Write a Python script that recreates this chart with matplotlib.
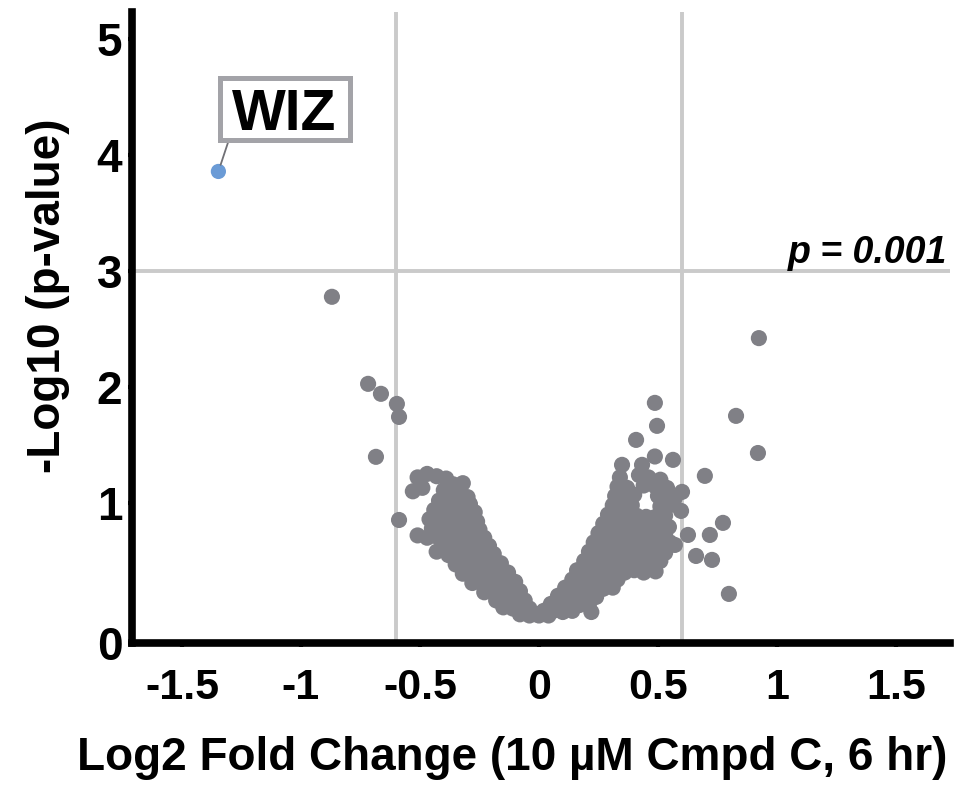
import matplotlib
matplotlib.use("Agg")
import matplotlib.pyplot as plt
from matplotlib.patches import Rectangle

plt.rcParams['font.family'] = ['Liberation Sans', 'DejaVu Sans']
plt.rcParams['font.weight'] = 'bold'
plt.rcParams['axes.unicode_minus'] = False

# ---- data -------------------------------------------------------------
# highlighted hit
hit_name = "WIZ"
hit_fc = -1.347
hit_logp = 3.856

# proteins lying away from the main cloud
outlier_fc = [-0.870, -0.718, -0.664, -0.597, -0.588, -0.685, -0.588,
              0.924, 0.828, 0.920, 0.487, 0.496, 0.408, 0.563, 0.487,
              0.349, 0.433, 0.697, 0.601, 0.597, 0.626, 0.718, 0.773,
              0.660, 0.727, 0.798, 0.546, 0.571, 0.538]
outlier_logp = [2.776, 2.026, 1.940, 1.853, 1.741, 1.397, 0.853,
                2.420, 1.750, 1.430, 1.862, 1.664, 1.543, 1.371, 1.400,
                1.328, 1.328, 1.233, 1.095, 0.931, 0.724, 0.724, 0.828,
                0.543, 0.509, 0.216, 0.793, 0.638, 1.129]

# bulk of quantified proteins, down-regulated side (fold change, -log10 p)
left_arm = [
    (-0.51, 1.22), (-0.47, 1.25), (-0.43, 1.23), (-0.39, 1.21),
    (-0.36, 1.16), (-0.32, 1.17),
    (-0.53, 1.10), (-0.49, 1.13), (-0.40, 1.11), (-0.35, 1.11), (-0.30, 1.05),
    (-0.42, 1.02), (-0.37, 1.03), (-0.33, 1.01), (-0.29, 0.99),
    (-0.44, 0.94), (-0.40, 0.95), (-0.36, 0.94), (-0.31, 0.93), (-0.27, 0.92),
    (-0.46, 0.86), (-0.42, 0.87), (-0.38, 0.86), (-0.34, 0.86), (-0.30, 0.85), (-0.26, 0.84),
    (-0.45, 0.78), (-0.41, 0.79), (-0.37, 0.78), (-0.33, 0.78), (-0.29, 0.77), (-0.25, 0.77),
    (-0.51, 0.72), (-0.47, 0.70), (-0.43, 0.71), (-0.39, 0.71), (-0.35, 0.70),
    (-0.31, 0.70), (-0.27, 0.69), (-0.23, 0.70),
    (-0.43, 0.58), (-0.40, 0.63), (-0.36, 0.63), (-0.32, 0.62), (-0.28, 0.62),
    (-0.24, 0.62), (-0.21, 0.63),
    (-0.38, 0.55), (-0.34, 0.55), (-0.30, 0.55), (-0.26, 0.55), (-0.22, 0.55), (-0.19, 0.56),
    (-0.35, 0.47), (-0.31, 0.47), (-0.27, 0.47), (-0.23, 0.47), (-0.19, 0.47), (-0.16, 0.48),
    (-0.32, 0.39), (-0.28, 0.39), (-0.24, 0.39), (-0.20, 0.39), (-0.16, 0.39), (-0.13, 0.40),
    (-0.28, 0.31), (-0.24, 0.31), (-0.20, 0.31), (-0.16, 0.31), (-0.12, 0.31), (-0.10, 0.32),
    (-0.23, 0.23), (-0.19, 0.23), (-0.15, 0.23), (-0.11, 0.23), (-0.08, 0.24),
    (-0.18, 0.16), (-0.14, 0.15), (-0.10, 0.15), (-0.06, 0.16),
    (-0.15, 0.10), (-0.11, 0.09), (-0.07, 0.08), (-0.04, 0.09),
    (-0.08, 0.04), (-0.04, 0.03), (-0.01, 0.04),
]

# bulk of quantified proteins, up-regulated side (fold change, -log10 p)
right_arm = [
    (0.34, 1.22), (0.42, 1.24), (0.46, 1.22), (0.51, 1.20),
    (0.33, 1.14), (0.37, 1.13), (0.44, 1.15), (0.49, 1.14), (0.53, 1.13),
    (0.32, 1.06), (0.36, 1.05), (0.40, 1.07), (0.50, 1.06), (0.54, 1.05), (0.57, 1.04),
    (0.31, 0.98), (0.35, 0.97), (0.39, 0.98), (0.51, 0.97), (0.55, 0.98),
    (0.29, 0.90), (0.33, 0.89), (0.37, 0.90), (0.41, 0.89), (0.45, 0.88), (0.49, 0.88), (0.53, 0.89),
    (0.27, 0.82), (0.31, 0.81), (0.35, 0.82), (0.39, 0.81), (0.43, 0.81), (0.47, 0.80), (0.51, 0.81),
    (0.25, 0.74), (0.29, 0.73), (0.33, 0.74), (0.37, 0.73), (0.41, 0.73), (0.45, 0.72),
    (0.49, 0.73), (0.53, 0.72),
    (0.23, 0.66), (0.27, 0.65), (0.31, 0.66), (0.35, 0.65), (0.39, 0.65), (0.43, 0.64),
    (0.47, 0.65), (0.51, 0.64), (0.55, 0.66),
    (0.21, 0.58), (0.25, 0.57), (0.29, 0.58), (0.33, 0.57), (0.37, 0.57), (0.41, 0.56),
    (0.45, 0.57), (0.49, 0.56), (0.53, 0.57),
    (0.19, 0.50), (0.23, 0.49), (0.27, 0.50), (0.31, 0.49), (0.35, 0.49), (0.39, 0.48),
    (0.43, 0.49), (0.47, 0.48), (0.51, 0.50),
    (0.16, 0.42), (0.20, 0.41), (0.24, 0.42), (0.28, 0.41), (0.32, 0.41), (0.36, 0.40),
    (0.40, 0.42), (0.44, 0.40), (0.49, 0.41),
    (0.14, 0.34), (0.18, 0.33), (0.22, 0.34), (0.26, 0.33), (0.30, 0.33), (0.33, 0.34),
    (0.11, 0.27), (0.15, 0.26), (0.19, 0.27), (0.23, 0.26), (0.27, 0.26), (0.31, 0.27),
    (0.08, 0.20), (0.12, 0.19), (0.16, 0.20), (0.20, 0.19), (0.24, 0.19),
    (0.05, 0.13), (0.09, 0.12), (0.13, 0.13), (0.17, 0.12), (0.21, 0.13),
    (0.02, 0.07), (0.06, 0.07), (0.10, 0.06), (0.14, 0.07), (0.22, 0.06),
    (0.00, 0.03), (0.04, 0.03),
]

# thresholds
fc_cut = 0.6        # fold-change cut-off (log2)
logp_cut = 3.0      # p = 0.001

# axes
x_ticks = [-1.5, -1, -0.5, 0, 0.5, 1, 1.5]
x_ticklabels = ["-1.5", "-1", "-0.5", "0", "0.5", "1", "1.5"]
y_floor = -0.207
y_ticks = [y_floor, 1, 2, 3, 4, 5]
y_ticklabels = ["0", "1", "2", "3", "4", "5"]
x_limits = (-1.71, 1.727)
y_limits = (y_floor, 5.23)

# ---- style ------------------------------------------------------------
point_grey = "#808086"
hit_blue = "#6b9bd6"
guide_grey = "#cacaca"

fig = plt.figure(figsize=(9.58, 7.87), dpi=100)
ax = fig.add_axes([132 / 958, 1 - 643 / 787, (950 - 132) / 958, (643 - 12) / 787])

ax.axvline(-fc_cut, color=guide_grey, lw=2.8, zorder=1)
ax.axvline(fc_cut, color=guide_grey, lw=2.8, zorder=1)
ax.axhline(logp_cut, color=guide_grey, lw=2.8, zorder=1)

for arm in (left_arm, right_arm):
    ax.scatter([p[0] for p in arm], [p[1] for p in arm], s=135,
               color=point_grey, edgecolors="none", zorder=2)
ax.scatter(outlier_fc, outlier_logp, s=135, color=point_grey,
           edgecolors="none", zorder=2)
ax.scatter([hit_fc], [hit_logp], s=120, color=hit_blue,
           edgecolors="none", zorder=3)

# label box for the hit
ax.add_patch(Rectangle((-1.342, 4.125), 0.546, 0.535, facecolor="white",
                       edgecolor="#a3a3a8", lw=3.6, zorder=4, clip_on=False))
ax.text(-1.071, 4.216, hit_name, fontsize=41, fontweight="bold",
        ha="center", va="baseline", zorder=5)
ax.annotate("", xy=(hit_fc, hit_logp), xytext=(-1.307, 4.103),
            arrowprops=dict(arrowstyle="-", color="#707075", lw=1.3,
                            shrinkA=0, shrinkB=5), zorder=3)

ax.text(1.714, 3.069, "p = 0.001", fontsize=27, fontweight="bold",
        fontstyle="italic", ha="right", va="baseline")

ax.set_xlim(*x_limits)
ax.set_ylim(*y_limits)
ax.set_xticks(x_ticks)
ax.set_xticklabels(x_ticklabels)
ax.set_yticks(y_ticks)
ax.set_yticklabels(y_ticklabels)

for side in ("top", "right"):
    ax.spines[side].set_visible(False)
for side in ("left", "bottom"):
    ax.spines[side].set_linewidth(5.5)
    ax.spines[side].set_color("black")

ax.tick_params(axis="x", length=3, width=3, pad=15, labelsize=31)
ax.tick_params(axis="y", length=3, width=3, pad=4, labelsize=33)

fig.text(512 / 958, 1 - 770 / 787, "Log2 Fold Change (10 µM Cmpd C, 6 hr)",
         fontsize=33, fontweight="bold", ha="center", va="baseline")
fig.text(48 / 958, 1 - 296 / 787, "-Log10 (p-value)", fontsize=33,
         fontweight="bold", rotation=90, ha="center", va="center")

fig.savefig("out.png", dpi=100, facecolor="white")
